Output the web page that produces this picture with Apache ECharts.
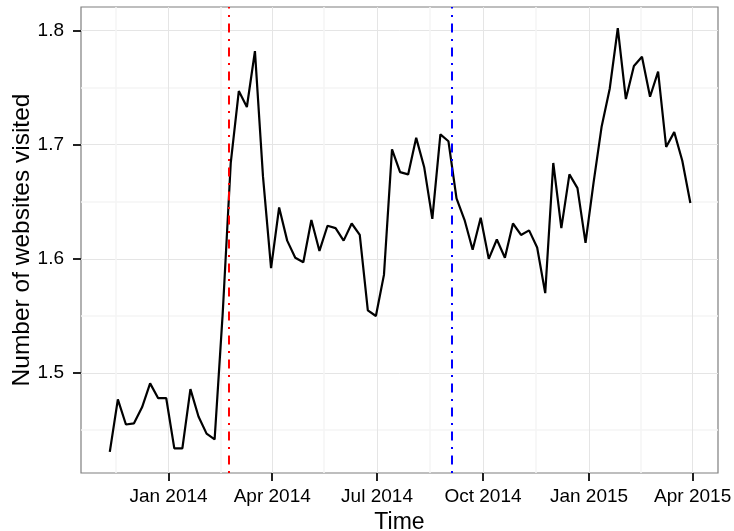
<!DOCTYPE html>
<html><head><meta charset="utf-8">
<script src="https://cdn.jsdelivr.net/npm/echarts@6/dist/echarts.min.js"></script>
<style>html,body{margin:0;padding:0;background:#fff}#c{width:734px;height:531px}</style>
</head><body><div id="c"></div>
<script>
const dates = [
'2013-11-11','2013-11-18','2013-11-25','2013-12-02','2013-12-09','2013-12-16','2013-12-23','2013-12-30',
'2014-01-06','2014-01-13','2014-01-20','2014-01-27','2014-02-03','2014-02-10','2014-02-17','2014-02-24',
'2014-03-03','2014-03-10','2014-03-17','2014-03-24','2014-03-31','2014-04-07','2014-04-14','2014-04-21',
'2014-04-28','2014-05-05','2014-05-12','2014-05-19','2014-05-26','2014-06-02','2014-06-09','2014-06-16',
'2014-06-23','2014-06-30','2014-07-07','2014-07-14','2014-07-21','2014-07-28','2014-08-04','2014-08-11',
'2014-08-18','2014-08-25','2014-09-01','2014-09-08','2014-09-15','2014-09-22','2014-09-29','2014-10-06',
'2014-10-13','2014-10-20','2014-10-27','2014-11-03','2014-11-10','2014-11-17','2014-11-24','2014-12-01',
'2014-12-08','2014-12-15','2014-12-22','2014-12-29','2015-01-05','2015-01-12','2015-01-19','2015-01-26',
'2015-02-02','2015-02-09','2015-02-16','2015-02-23','2015-03-02','2015-03-09','2015-03-16','2015-03-23',
'2015-03-30'];
const values = [
1.431,1.477,1.455,1.456,1.470,1.491,1.478,1.478,
1.434,1.434,1.486,1.462,1.447,1.442,1.552,1.684,
1.747,1.733,1.782,1.672,1.592,1.645,1.616,1.601,
1.597,1.634,1.607,1.629,1.627,1.616,1.631,1.621,
1.555,1.550,1.586,1.696,1.676,1.674,1.706,1.680,
1.635,1.709,1.703,1.653,1.634,1.608,1.636,1.600,
1.617,1.601,1.631,1.621,1.625,1.610,1.570,1.684,
1.627,1.674,1.662,1.614,1.667,1.716,1.749,1.802,
1.740,1.769,1.777,1.742,1.764,1.698,1.711,1.686,
1.649];
const xTickDates = ['2014-01-01','2014-04-01','2014-07-01','2014-10-01','2015-01-01','2015-04-01'];
const xTickLabels = ['Jan 2014','Apr 2014','Jul 2014','Oct 2014','Jan 2015','Apr 2015'];
const xMinorDates = ['2013-11-16','2014-02-15','2014-05-16','2014-08-16','2014-11-16','2015-02-15'];
const yTicks = [1.5, 1.6, 1.7, 1.8];
const yMinor = [1.45, 1.55, 1.65, 1.75];
const eventDates = ['2014-02-22', '2014-09-04'];
const eventColors = ['#ff0000', '#0000ff'];
const xRange = ['2013-10-17', '2015-04-23'];
const yRange = [1.4125, 1.8206];

function ts(s){ const p = s.split('-').map(Number); return Date.UTC(p[0], p[1]-1, p[2]); }
const labelMap = {};
xTickDates.forEach((d,i)=>{ labelMap[ts(d)] = xTickLabels[i]; });
const font = 'Liberation Sans, Arial, Helvetica, sans-serif';

const chart = echarts.init(document.getElementById('c'), null, {renderer:'canvas'});
chart.setOption({
  animation: false,
  backgroundColor: '#fff',
  grid: {left: 81, right: 16, top: 7, bottom: 58, containLabel: false, outerBoundsMode: 'none', show: true, borderColor: '#7f7f7f', borderWidth: 1.2, backgroundColor: '#fff'},
  xAxis: [{
    type: 'value', min: ts(xRange[0]), max: ts(xRange[1]),
    name: 'Time', nameLocation: 'middle', nameGap: 34,
    nameTextStyle: {fontFamily: font, fontSize: 23, color: '#000'},
    axisLine: {show: false},
    axisTick: {show: true, length: 8, customValues: xTickDates.map(ts), lineStyle: {color: '#222', width: 2}},
    axisLabel: {customValues: xTickDates.map(ts), formatter: v => labelMap[v] || '', fontFamily: font, fontSize: 19, color: '#000', margin: 14, hideOverlap: false, showMinLabel: true, showMaxLabel: true},
    splitLine: {show: true, lineStyle: {color: '#e5e5e5', width: 1}}
  }, {
    type: 'value', min: ts(xRange[0]), max: ts(xRange[1]), position: 'bottom',
    axisLine: {show: false}, axisLabel: {show: false},
    axisTick: {show: false, customValues: xMinorDates.map(ts)},
    splitLine: {show: true, lineStyle: {color: '#f5f5f5', width: 1.5}}
  }],
  yAxis: [{
    type: 'value', min: yRange[0], max: yRange[1],
    name: 'Number of websites visited', nameLocation: 'middle', nameGap: 46, nameMoveOverlap: false,
    nameTextStyle: {fontFamily: font, fontSize: 24.5, color: '#000'},
    axisLine: {show: false},
    axisTick: {show: true, length: 8, customValues: yTicks, lineStyle: {color: '#222', width: 2}},
    axisLabel: {customValues: yTicks, formatter: v => v.toFixed(1), fontFamily: font, fontSize: 19, color: '#000', margin: 17},
    splitLine: {show: true, lineStyle: {color: '#e5e5e5', width: 1}}
  }, {
    type: 'value', min: yRange[0], max: yRange[1], position: 'left',
    axisLine: {show: false}, axisLabel: {show: false},
    axisTick: {show: false, customValues: yMinor},
    splitLine: {show: true, lineStyle: {color: '#f5f5f5', width: 1.5}}
  }],
  series: [{
    type: 'line', xAxisIndex: 0, yAxisIndex: 0,
    data: dates.map((d,i)=>[ts(d), values[i]]),
    showSymbol: false, symbol: 'none',
    lineStyle: {color: '#000', width: 2.2}, z: 3,
    markLine: {
      silent: true, symbol: ['none','none'], label: {show: false},
      lineStyle: {width: 2, type: [2, 6.5, 9, 6.5]},
      data: eventDates.map((d,i)=>({xAxis: ts(d), lineStyle: {color: eventColors[i], width: 2, type: [2, 6.5, 9, 6.5]}}))
    }
  }]
});
</script></body></html>
